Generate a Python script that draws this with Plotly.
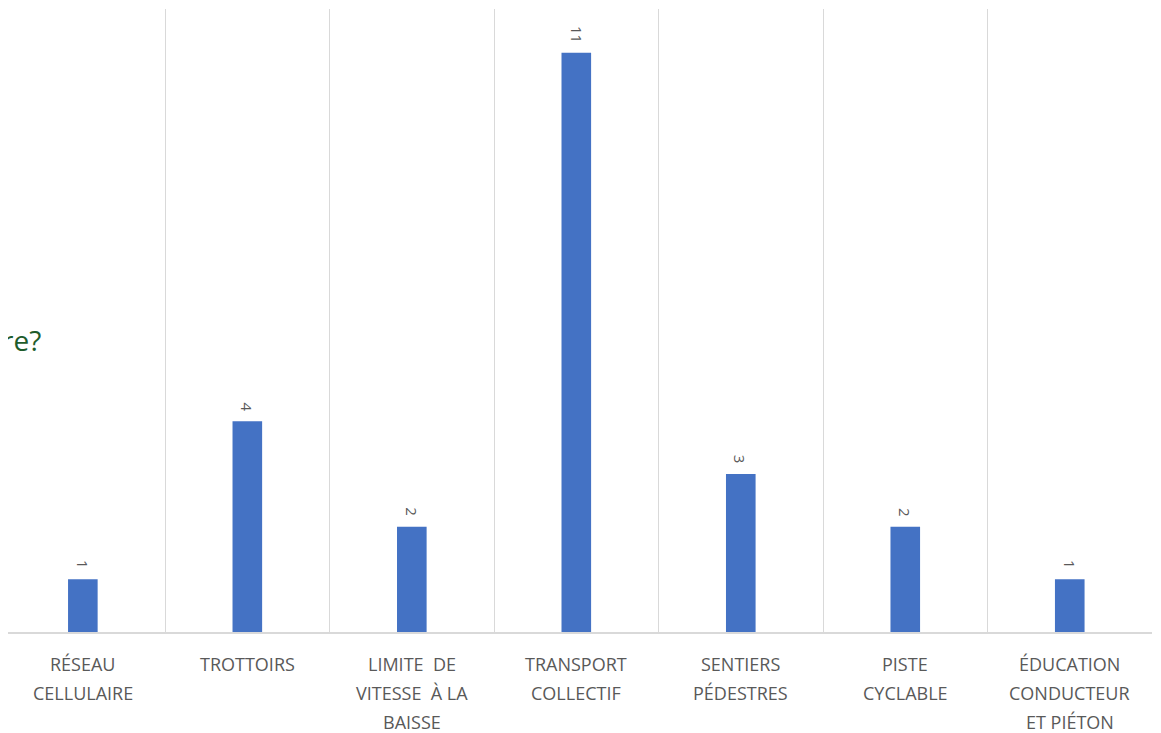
import plotly.graph_objects as go

categories = ["RÉSEAU CELLULAIRE", "TROTTOIRS", "LIMITE DE VITESSE À LA BAISSE",
              "TRANSPORT COLLECTIF", "SENTIERS PÉDESTRES", "PISTE CYCLABLE",
              "ÉDUCATION CONDUCTEUR ET PIÉTON"]
values = [1, 4, 2, 11, 3, 2, 1]
label_lines = [["RÉSEAU", "CELLULAIRE"], ["TROTTOIRS"], ["LIMITE  DE", "VITESSE  À LA", "BAISSE"],
               ["TRANSPORT", "COLLECTIF"], ["SENTIERS", "PÉDESTRES"], ["PISTE", "CYCLABLE"],
               ["ÉDUCATION", "CONDUCTEUR", "ET PIÉTON"]]
title_fragment = "re?"

fig = go.Figure()
fig.add_trace(go.Bar(x=categories, y=values, marker=dict(color="#4472C4", line=dict(width=0)),
                     hoverinfo="skip"))

annotations = []
for cat, v in zip(categories, values):
    annotations.append(dict(x=cat, y=v, xref="x", yref="y", text=str(v), showarrow=False,
                            textangle=90, yanchor="bottom", yshift=8,
                            font=dict(family="Open Sans", size=15, color="#595959")))
for cat, lines in zip(categories, label_lines):
    for i, line in enumerate(lines):
        annotations.append(dict(x=cat, y=0, xref="x", yref="y", text=line, showarrow=False,
                                yanchor="middle", yshift=-32 - 29 * i,
                                font=dict(family="Open Sans", size=18, color="#595959")))
annotations.append(dict(x=0, y=0.468, xref="paper", yref="paper", text=title_fragment,
                        showarrow=False, xanchor="right", yanchor="middle", xshift=35,
                        font=dict(family="Open Sans", size=28, color="#1E5C2B")))

fig.update_layout(
    width=1153, height=725,
    margin=dict(l=0, r=9, t=1, b=101),
    paper_bgcolor="white", plot_bgcolor="white",
    bargap=0.82, showlegend=False,
    annotations=annotations,
    xaxis=dict(type="category", range=[-0.455, 6.5], showticklabels=False, ticks="",
               tickson="boundaries", showgrid=True, gridcolor="#D9D9D9", gridwidth=1.3,
               showline=True, linecolor="#D9D9D9", linewidth=1.5, mirror=False),
    yaxis=dict(range=[0, 11.83], showgrid=False, showticklabels=False, zeroline=False,
               showline=False),
)
fig.write_html("out.html")
